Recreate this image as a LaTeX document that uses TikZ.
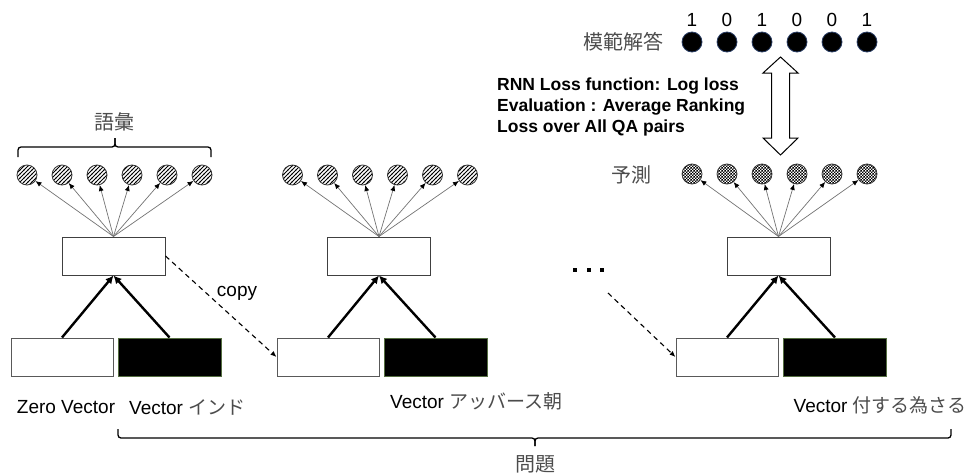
\documentclass[tikz,border=0pt]{standalone}
\usepackage{fontspec}
\setmainfont{Liberation Sans}
\newfontfamily\jp{Noto Sans CJK JP}
\usepackage{tikz}
\usetikzlibrary{arrows.meta,patterns}

\pgfdeclarepatternformonly{dense hatch}{\pgfqpoint{-1pt}{-1pt}}{\pgfqpoint{5pt}{5pt}}{\pgfqpoint{4pt}{4pt}}{
    \pgfsetlinewidth{1pt}
    \pgfpathmoveto{\pgfqpoint{-0.5pt}{-0.5pt}}
    \pgfpathlineto{\pgfqpoint{4.5pt}{4.5pt}}
    \pgfusepath{stroke}}
\pgfdeclarepatternformonly{fine checker}{\pgfpointorigin}{\pgfqpoint{3.4pt}{3.4pt}}{\pgfqpoint{3.4pt}{3.4pt}}{
    \pgfpathrectangle{\pgfpointorigin}{\pgfqpoint{1.7pt}{1.7pt}}
    \pgfpathrectangle{\pgfqpoint{1.7pt}{1.7pt}}{\pgfqpoint{1.7pt}{1.7pt}}
    \pgfusepath{fill}}

\begin{document}
\begin{tikzpicture}[x=1pt,y=-1pt,
    hidbox/.style={draw=black!75,line width=1pt,fill=white,minimum width=103pt,minimum height=38pt,inner sep=0pt},
    zerobox/.style={draw=black!65,line width=1pt,fill=white,minimum width=102pt,minimum height=38pt,inner sep=0pt},
    vecbox/.style={draw={rgb,255:red,85;green,110;blue,65},line width=1pt,fill=black,minimum width=103pt,minimum height=38pt,inner sep=0pt},
    hatchout/.style={circle,draw=black!80,line width=0.8pt,pattern=dense hatch,minimum size=20pt,inner sep=0pt},
    checkout/.style={circle,draw=black!80,line width=0.8pt,pattern=fine checker,minimum size=20pt,inner sep=0pt},
    answer/.style={circle,draw={rgb,255:red,40;green,60;blue,100},line width=0.8pt,fill=black,minimum size=20pt,inner sep=0pt},
    fan/.style={draw=black!55,line width=0.7pt,-{Latex[length=6pt,width=5pt,color=black]}},
    feed/.style={line width=2.4pt,-{Latex[length=8pt,width=8pt]}},
    copyline/.style={line width=1.1pt,dash pattern=on 5pt off 4pt,-{Latex[length=6pt,width=5pt]}},
    lbl/.style={font=\fontsize{19}{23}\selectfont,inner sep=0pt},
    jplbl/.style={font=\fontsize{20}{24}\selectfont\jp,text=black!70,inner sep=0pt},
    dotbox/.style={rectangle,fill=black,minimum size=4pt,inner sep=0pt}]
    \useasboundingbox (0,0) rectangle (968,474);

    % first step
    \node [hidbox] (hid a) at (113.5,256) {};
    \node [zerobox] (zero a) at (62,357) {};
    \node [vecbox] (vec a) at (169.5,357) {};
    \node [hatchout] (a1) at (27,175) {};
    \node [hatchout] (a2) at (62,175) {};
    \node [hatchout] (a3) at (97,175) {};
    \node [hatchout] (a4) at (132,175) {};
    \node [hatchout] (a5) at (167,175) {};
    \node [hatchout] (a6) at (202,175) {};
    \draw [fan] (hid a.north)--(a1);
    \draw [fan] (hid a.north)--(a2);
    \draw [fan] (hid a.north)--(a3);
    \draw [fan] (hid a.north)--(a4);
    \draw [fan] (hid a.north)--(a5);
    \draw [fan] (hid a.north)--(a6);
    \draw [feed] (zero a.north)--(hid a.south);
    \draw [feed] (vec a.north)--(hid a.south);
    \draw [line width=1.3pt,rounded corners=3pt] (18,157)--(18,147)--(115,147)--(115,138);
    \draw [line width=1.3pt,rounded corners=3pt] (211,157)--(211,147)--(115,147)--(115,138);
    \node [jplbl] (vocab) at (114,122) {語彙};
    \node [lbl] (zerolbl a) at (66,407) {Zero Vector};
    \node [lbl,anchor=west] (veclbl a) at (129,407) {Vector {\jp\color{black!70}インド}};

    % second step
    \node [hidbox] (hid b) at (379,256) {};
    \node [zerobox] (zero b) at (328,357) {};
    \node [vecbox] (vec b) at (435.5,357) {};
    \node [hatchout] (b1) at (292.5,175) {};
    \node [hatchout] (b2) at (327.5,175) {};
    \node [hatchout] (b3) at (362.5,175) {};
    \node [hatchout] (b4) at (397.5,175) {};
    \node [hatchout] (b5) at (432.5,175) {};
    \node [hatchout] (b6) at (467.5,175) {};
    \draw [fan] (hid b.north)--(b1);
    \draw [fan] (hid b.north)--(b2);
    \draw [fan] (hid b.north)--(b3);
    \draw [fan] (hid b.north)--(b4);
    \draw [fan] (hid b.north)--(b5);
    \draw [fan] (hid b.north)--(b6);
    \draw [feed] (zero b.north)--(hid b.south);
    \draw [feed] (vec b.north)--(hid b.south);
    \draw [copyline] (hid a.east)--(zero b.west);
    \node [lbl] (copylbl) at (237,293) {copy};
    \node [lbl,anchor=west] (veclbl b) at (390,401) {Vector {\jp\color{black!70}アッバース朝}};

    % dots
    \node [dotbox] (d1) at (575,270) {};
    \node [dotbox] (d2) at (588.5,270) {};
    \node [dotbox] (d3) at (602,270) {};

    % last step
    \node [hidbox] (hid c) at (778.5,256) {};
    \node [zerobox] (zero c) at (727,357) {};
    \node [vecbox] (vec c) at (835,357) {};
    \node [checkout] (c1) at (692,174) {};
    \node [checkout] (c2) at (727,174) {};
    \node [checkout] (c3) at (762,174) {};
    \node [checkout] (c4) at (797,174) {};
    \node [checkout] (c5) at (832,174) {};
    \node [checkout] (c6) at (867,174) {};
    \draw [fan] (hid c.north)--(c1);
    \draw [fan] (hid c.north)--(c2);
    \draw [fan] (hid c.north)--(c3);
    \draw [fan] (hid c.north)--(c4);
    \draw [fan] (hid c.north)--(c5);
    \draw [fan] (hid c.north)--(c6);
    \draw [feed] (zero c.north)--(hid c.south);
    \draw [feed] (vec c.north)--(hid c.south);
    \coordinate (copy c) at (608,293);
    \draw [copyline] (copy c)--(zero c.west);
    \node [jplbl] (predlbl) at (631,175) {予測};
    \node [lbl,anchor=east] (veclbl c) at (967,405) {Vector {\jp\color{black!70}付する為さる}};

    % target
    \node [answer] (t1) at (692,42) {};
    \node [answer] (t2) at (727,42) {};
    \node [answer] (t3) at (762,42) {};
    \node [answer] (t4) at (797,42) {};
    \node [answer] (t5) at (832,42) {};
    \node [answer] (t6) at (867,42) {};
    \node [lbl] (v1) at (692,20) {1};
    \node [lbl] (v2) at (727,20) {0};
    \node [lbl] (v3) at (762,20) {1};
    \node [lbl] (v4) at (797,20) {0};
    \node [lbl] (v5) at (832,20) {0};
    \node [lbl] (v6) at (867,20) {1};
    \node [jplbl] (targetlbl) at (623,42) {模範解答};
    \draw [line width=1pt,fill=white] (780.5,57)--(798,73)--(789.5,73)--(789.5,138)--(798,138)--(780.5,155)
        --(763,138)--(771.5,138)--(771.5,73)--(763,73)--cycle;
    \node [anchor=west,align=left,inner sep=0pt,font=\bfseries\fontsize{17.5}{21}\selectfont] (losstxt) at (497,107)
        {RNN Loss function: Log loss\\Evaluation : Average Ranking\\Loss over All QA pairs};

    % question brace
    \draw [line width=1.3pt,rounded corners=3pt] (118,429)--(118,438)--(535,438)--(535,446);
    \draw [line width=1.3pt,rounded corners=3pt] (951,429)--(951,438)--(535,438)--(535,446);
    \node [jplbl] (question) at (535,464) {問題};
\end{tikzpicture}
\end{document}
